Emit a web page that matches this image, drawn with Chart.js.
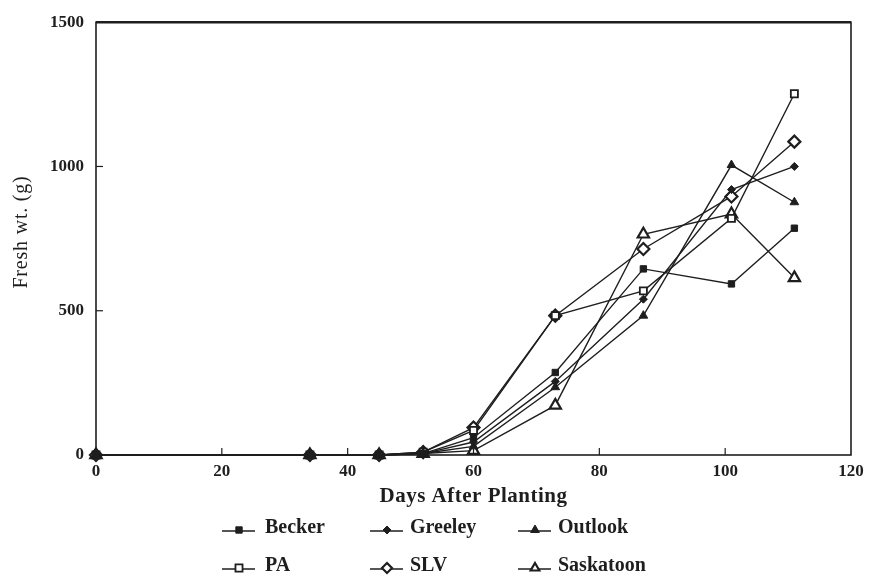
<!DOCTYPE html>
<html>
<head>
<meta charset="utf-8">
<script src="https://cdn.jsdelivr.net/npm/chart.js@4.4.1/dist/chart.umd.min.js"></script>
<style>
  html, body { margin: 0; padding: 0; background: #fff; }
  #wrap { width: 871px; height: 585px; position: relative; }
</style>
</head>
<body>
<div id="wrap"><canvas id="c" width="871" height="585"></canvas></div>
<script>
const days = [0, 34, 45, 52, 60, 73, 87, 101, 111];
const becker = [0, 0, 0, 5, 60, 286, 645, 593, 786];
const greeley = [0, 0, 0, 5, 45, 255, 540, 920, 1000];
const outlook = [0, 0, 0, 5, 30, 235, 483, 1005, 876];
const pa = [0, 0, 0, 10, 85, 483, 569, 820, 1252];
const slv = [0, 0, 0, 10, 95, 483, 714, 896, 1086];
const saskatoon = [0, 0, 0, 5, 15, 172, 765, 835, 614];
const seriesNames = ['Becker', 'Greeley', 'Outlook', 'PA', 'SLV', 'Saskatoon'];
const xTicks = [0, 20, 40, 60, 80, 100, 120];
const yTicks = [0, 500, 1000, 1500];

const INK = '#1e1e1e';
const SERIF = '"Liberation Serif", "Times New Roman", serif';

function pts(vals) { return days.map((d, i) => ({ x: d, y: vals[i] })); }

const styles = [
  { style: 'rect', r: 4.5, fill: INK, bw: 1 },
  { style: 'rectRot', r: 4, fill: INK, bw: 1 },
  { style: 'triangle', r: 5, fill: INK, bw: 1 },
  { style: 'rect', r: 5, fill: '#fff', bw: 1.8 },
  { style: 'rectRot', r: 6, fill: '#fff', bw: 2.2 },
  { style: 'triangle', r: 6.5, fill: '#fff', bw: 2.2 }
];
const allVals = [becker, greeley, outlook, pa, slv, saskatoon];

const datasets = allVals.map((v, i) => ({
  label: seriesNames[i],
  data: pts(v),
  borderColor: INK,
  borderWidth: 1.4,
  pointStyle: styles[i].style,
  pointRadius: styles[i].r,
  pointBackgroundColor: styles[i].fill,
  pointBorderColor: INK,
  pointBorderWidth: styles[i].bw,
  tension: 0,
  clip: false
}));

function drawShape(ctx, st, x, y) {
  ctx.save();
  ctx.fillStyle = st.fill;
  ctx.strokeStyle = INK;
  ctx.lineWidth = st.bw;
  ctx.beginPath();
  const r = st.r;
  if (st.style === 'rect') {
    const s = r * Math.SQRT1_2 * 2;
    ctx.rect(x - s / 2, y - s / 2, s, s);
  } else if (st.style === 'rectRot') {
    ctx.moveTo(x, y - r); ctx.lineTo(x + r, y); ctx.lineTo(x, y + r); ctx.lineTo(x - r, y); ctx.closePath();
  } else {
    ctx.moveTo(x, y - r); ctx.lineTo(x + r * 0.87, y + r * 0.5); ctx.lineTo(x - r * 0.87, y + r * 0.5); ctx.closePath();
  }
  ctx.fill(); ctx.stroke();
  ctx.restore();
}

const decor = {
  id: 'decor',
  afterDraw(chart) {
    const ctx = chart.ctx;
    const a = chart.chartArea;
    const xs = chart.scales.x, ys = chart.scales.y;
    ctx.save();
    // frame
    ctx.strokeStyle = INK;
    ctx.lineWidth = 1.6;
    ctx.strokeRect(a.left, a.top, a.right - a.left, a.bottom - a.top);
    ctx.lineWidth = 2.4;
    ctx.beginPath(); ctx.moveTo(a.left, a.top); ctx.lineTo(a.right, a.top); ctx.stroke();
    // inner ticks
    ctx.lineWidth = 1.2;
    xTicks.forEach(t => {
      if (t === 0 || t === 120) return;
      const px = xs.getPixelForValue(t);
      ctx.beginPath(); ctx.moveTo(px, a.bottom); ctx.lineTo(px, a.bottom - 7); ctx.stroke();
    });
    yTicks.forEach(t => {
      if (t === 0 || t === 1500) return;
      const py = ys.getPixelForValue(t);
      ctx.beginPath(); ctx.moveTo(a.left, py); ctx.lineTo(a.left + 7, py); ctx.stroke();
    });
    // axis titles
    ctx.fillStyle = INK;
    ctx.textAlign = 'center';
    ctx.textBaseline = 'middle';
    ctx.font = 'bold 21px ' + SERIF;
    ctx.letterSpacing = '0.5px';
    ctx.fillText('Days After Planting', (a.left + a.right) / 2, 497);
    ctx.save();
    ctx.translate(22, 232);
    ctx.rotate(-Math.PI / 2);
    ctx.font = '20px ' + SERIF;
    ctx.letterSpacing = '0.8px';
    ctx.fillText('Fresh wt. (g)', 0, 0);
    ctx.restore();
    // legend
    const colLine = [222, 370, 518];
    const colText = [265, 410, 558];
    const rowY = [531, 569];
    ctx.font = 'bold 20px ' + SERIF;
    ctx.letterSpacing = '0px';
    ctx.textAlign = 'left';
    chart.data.datasets.forEach((ds, i) => {
      const c = i % 3, r = Math.floor(i / 3);
      const y = rowY[r];
      ctx.strokeStyle = INK;
      ctx.lineWidth = 1.4;
      ctx.beginPath(); ctx.moveTo(colLine[c], y); ctx.lineTo(colLine[c] + 33, y); ctx.stroke();
      const st = Object.assign({}, styles[i]);
      st.r = Math.min(st.r, 5);
      drawShape(ctx, st, colLine[c] + 17, y - 1);
      ctx.fillStyle = INK;
      ctx.fillText(ds.label, colText[c], y - 3);
    });
    ctx.restore();
  }
};

new Chart(document.getElementById('c'), {
  type: 'line',
  data: { datasets },
  options: {
    responsive: false,
    animation: false,
    layout: { padding: { left: 0, right: 20, top: 20, bottom: 0 } },
    plugins: { legend: { display: false }, tooltip: { enabled: false } },
    scales: {
      x: {
        type: 'linear',
        min: 0, max: 120,
        afterFit(s) { s.height = 130; },
        afterBuildTicks(s) { s.ticks = xTicks.map(v => ({ value: v })); },
        grid: { display: false, drawTicks: false },
        border: { display: false },
        ticks: { color: INK, padding: 6, font: { family: SERIF, size: 17, weight: 'bold' }, maxRotation: 0, callback: v => String(v) }
      },
      y: {
        type: 'linear',
        min: 0, max: 1500,
        afterFit(s) { s.width = 96; },
        afterBuildTicks(s) { s.ticks = yTicks.map(v => ({ value: v })); },
        grid: { display: false, drawTicks: false },
        border: { display: false },
        ticks: { color: INK, padding: 12, font: { family: SERIF, size: 17, weight: 'bold' }, callback: v => String(v) }
      }
    }
  },
  plugins: [decor]
});
</script>
</body>
</html>
